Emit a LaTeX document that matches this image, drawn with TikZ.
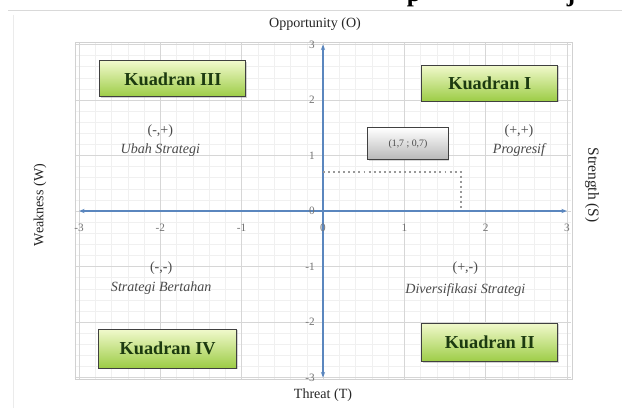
\documentclass[tikz,border=0pt]{standalone}
\usepackage{fontspec}
\setmainfont{Liberation Serif}
\usetikzlibrary{arrows.meta,shadows}

\definecolor{axisblue}{HTML}{5A86BE}
\definecolor{quadtop}{HTML}{F1F9CC}
\definecolor{quadbot}{HTML}{9CCC45}
\definecolor{quadtext}{HTML}{1C3A10}
\definecolor{labgray}{HTML}{4A4A4A}

\begin{document}
\begin{tikzpicture}[x=0.025cm,y=0.025cm,
  quad/.style={draw=black!75,line width=0.7pt,top color=quadtop,bottom color=quadbot,
    minimum height=0.9cm,inner sep=2pt,text=quadtext,
    font=\fontsize{13}{15}\selectfont\bfseries,
    drop shadow={opacity=0.35,shadow xshift=0.6pt,shadow yshift=-0.6pt}},
  pointbox/.style={draw=black!75,line width=0.7pt,top color=white,bottom color=black!28,
    minimum width=2cm,minimum height=0.8cm,text=labgray,
    font=\fontsize{7}{8}\selectfont,
    drop shadow={opacity=0.3,shadow xshift=0.6pt,shadow yshift=-0.6pt}},
  sign/.style={text=labgray,font=\fontsize{10}{12}\selectfont},
  strat/.style={text=labgray,font=\fontsize{10}{12}\selectfont\itshape},
  tick/.style={text=black!55,font=\fontsize{8}{9}\selectfont,inner sep=1pt},
  axtitle/.style={text=black!85,font=\fontsize{10}{12}\selectfont},
  axis/.style={axisblue,line width=0.9pt},
  minorgrid/.style={black!6,line width=0.3pt},
  majorgrid/.style={black!16,line width=0.4pt}]
 \useasboundingbox (0,0) rectangle (622,408);
 \fill[white] (0,0) rectangle (622,408);
 % chart frame
 \draw[black!15,line width=0.6pt] (8,398) -- (622,398);
 \draw[black!8,line width=0.6pt] (13,393) -- (13,0);
 % cut heading
 \node[anchor=base,inner sep=0pt,font=\fontsize{18}{22}\selectfont\bfseries] (hp) at (414,406) {p};
 \node[anchor=base,inner sep=0pt,font=\fontsize{18}{22}\selectfont\bfseries] (hj) at (571,406) {j};
 % axis titles
 \node[axtitle] (ot) at (315,384) {Opportunity (O)};
 \node[axtitle] (tt) at (323,13) {Threat (T)};
 \node[axtitle,rotate=90] (wt) at (40,203) {Weakness (W)};
 \node[axtitle,rotate=-90,font=\fontsize{11}{13}\selectfont] (st) at (592,223) {Strength (S)};
 \begin{scope}[shift={(323,197)},x=2.0325cm,y=1.3875cm]
  % grid
  \foreach \i in {-15,...,15} {
   \draw[minorgrid] (\i/5,-3.04) -- (\i/5,3.04);
   \draw[minorgrid] (-3.05,\i/5) -- (3.05,\i/5);
  }
  \foreach \i in {-3,...,3} {
   \draw[majorgrid] (\i,-3.04) -- (\i,3.04);
   \draw[majorgrid] (-3.05,\i) -- (3.05,\i);
  }
  \draw[black!18,line width=0.5pt] (-3.05,-3.04) rectangle (3.07,3.04);
  % axes
  \coordinate (xl) at (-3,0);
  \coordinate (xr) at (3,0);
  \coordinate (yb) at (0,-3);
  \coordinate (yt) at (0,3);
  \draw[axis,{Stealth[length=4pt,width=3pt]}-{Stealth[length=4pt,width=3pt]}] (xl) -- (xr);
  \draw[axis,{Stealth[length=4pt,width=3pt]}-{Stealth[length=4pt,width=3pt]}] (yb) -- (yt);
  \foreach \v/\t in {3/3,2/2,1/1,0/0,-1/-1,-2/-2,-3/-3}
   \node[tick,anchor=east] (ty\v) at (-0.08,\v) {\t};
  \foreach \v/\t in {-3/-3,-2/-2,-1/-1,0/0,1/1,2/2,3/3}
   \node[tick] (tx\v) at (\v,-0.3) {\t};
  % point
  \coordinate (px) at (1.7,0);
  \coordinate (py) at (0,0.7);
  \coordinate (pp) at (1.7,0.7);
  \draw[black!40,line width=1.4pt,dash pattern=on 1.4pt off 2.2pt] (py) -- (pp) -- (px);
  \node[pointbox] (pt) at (1.045,1.21) {(1,7 ; 0,7)};
  % quadrants
  \node[quad,minimum width=3.65cm] (k3) at (-1.845,2.38) {Kuadran III};
  \node[quad,minimum width=3.4cm] (k1) at (2.05,2.30) {Kuadran I};
  \node[quad,minimum width=3.45cm,minimum height=0.97cm] (k4) at (-1.91,-2.48) {Kuadran IV};
  \node[quad,minimum width=3.4cm,minimum height=0.97cm] (k2) at (2.05,-2.37) {Kuadran II};
  % strategies
  \node[sign] (s3) at (-2.0,1.44) {(-,+)};
  \node[strat] (u3) at (-2.0,1.10) {Ubah Strategi};
  \node[sign] (s1) at (2.41,1.44) {(+,+)};
  \node[strat] (u1) at (2.41,1.10) {Progresif};
  \node[sign] (s4) at (-1.99,-1.03) {(-,-)};
  \node[strat] (u4) at (-1.99,-1.39) {Strategi Bertahan};
  \node[sign] (s2) at (1.75,-1.03) {(+,-)};
  \node[strat] (u2) at (1.75,-1.42) {Diversifikasi Strategi};
 \end{scope}
\end{tikzpicture}
\end{document}
